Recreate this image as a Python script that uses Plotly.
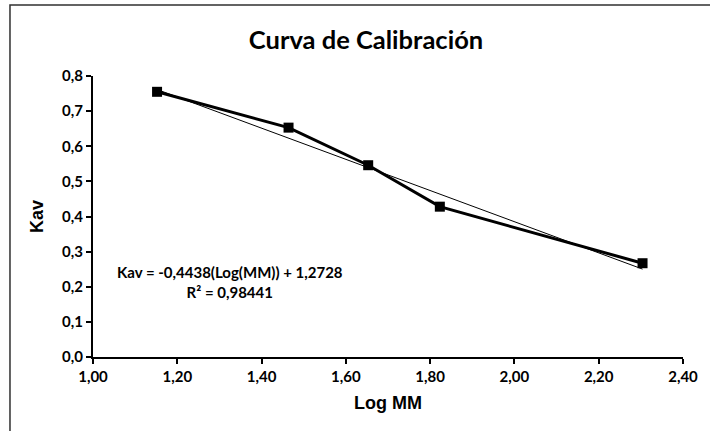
import plotly.graph_objects as go

log_mm = [1.152, 1.464, 1.653, 1.823, 2.304]
kav = [0.755, 0.653, 0.546, 0.428, 0.267]
slope = -0.4438
intercept = 1.2728
eq_text = "Kav = -0,4438(Log(MM)) + 1,2728<br>R² = 0,98441"
x_ticks = [1.0, 1.2, 1.4, 1.6, 1.8, 2.0, 2.2, 2.4]
y_ticks = [0.0, 0.1, 0.2, 0.3, 0.4, 0.5, 0.6, 0.7, 0.8]

trend_x = [min(log_mm), max(log_mm)]
trend_y = [slope * v + intercept for v in trend_x]

fig = go.Figure()
fig.add_trace(go.Scatter(x=trend_x, y=trend_y, mode="lines",
                         line=dict(color="black", width=1), showlegend=False))
fig.add_trace(go.Scatter(x=log_mm, y=kav, mode="lines+markers",
                         line=dict(color="black", width=3),
                         marker=dict(symbol="square", size=10, color="black"),
                         showlegend=False))

tick_font = dict(family="Lato", size=15, color="black", weight="bold")
fig.update_layout(
    width=710, height=431,
    margin=dict(l=93, r=19, t=76, b=74),
    paper_bgcolor="white", plot_bgcolor="white",
    title=dict(text="Curva de Calibración", x=0.5155, xanchor="center",
               y=0.907, yanchor="middle",
               font=dict(family="Lato", size=25.5, color="black", weight="bold")),
    xaxis=dict(range=[1.0, 2.4], tickvals=x_ticks,
               ticktext=[f"{v:.2f}".replace(".", ",") for v in x_ticks],
               showgrid=False, zeroline=False, showline=True, linecolor="black",
               linewidth=2, ticks="outside", ticklen=5, tickwidth=2, tickcolor="black",
               tickfont=tick_font,
               title=dict(text="<b>Log MM</b>", standoff=12,
                          font=dict(family="Liberation Sans", size=18, color="black"))),
    yaxis=dict(range=[0.0, 0.8], tickvals=y_ticks,
               ticktext=[f"{v:.1f}".replace(".", ",") for v in y_ticks],
               showgrid=False, zeroline=False, showline=True, linecolor="black",
               linewidth=2, ticks="outside", ticklen=5, tickwidth=2, tickcolor="black",
               tickfont=tick_font,
               title=dict(text="<b>Kav</b>", standoff=14,
                          font=dict(family="Liberation Sans", size=18, color="black"))),
)
fig.add_annotation(text=eq_text, x=1.326, y=0.213,
                   xref="x", yref="y", showarrow=False, align="center",
                   font=dict(family="Lato", size=15, color="black", weight="bold"))
fig.add_shape(type="rect", xref="paper", yref="paper",
              x0=-0.1407, x1=1.1, y0=-0.4, y1=1.2524,
              line=dict(color="#303030", width=1.5), layer="below")
fig.write_html("out.html")
